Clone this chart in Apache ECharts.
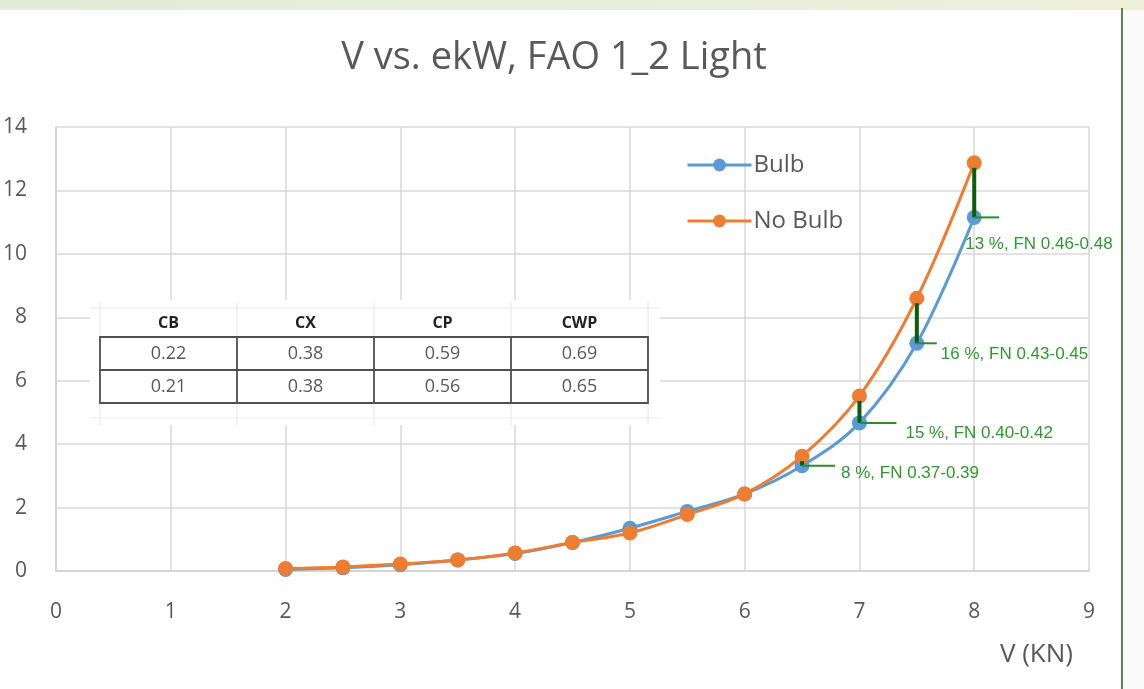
<!DOCTYPE html>
<html><head><meta charset="utf-8">
<script src="https://cdn.jsdelivr.net/npm/echarts@6/dist/echarts.min.js"></script>
<style>html,body{margin:0;padding:0;background:#fff;}#c{width:1144px;height:689px;}</style>
</head><body><div id="c"></div>
<script>
const speeds = [2, 2.5, 3, 3.5, 4, 4.5, 5, 5.5, 6, 6.5, 7, 7.5, 8];
const bulb = [0.05, 0.1, 0.2, 0.35, 0.55, 0.9, 1.35, 1.88, 2.43, 3.32, 4.67, 7.18, 11.15];
const noBulb = [0.08, 0.13, 0.22, 0.35, 0.57, 0.9, 1.2, 1.78, 2.43, 3.62, 5.52, 8.6, 12.87];
const annotSpeeds = [6.5, 7, 7.5, 8];
const annotLabels = ['8 %, FN 0.37-0.39', '15 %, FN 0.40-0.42', '16 %, FN 0.43-0.45', '13 %, FN 0.46-0.48'];
const tableHeaders = ['CB', 'CX', 'CP', 'CWP'];
const tableRow1 = ['0.22', '0.38', '0.59', '0.69'];
const tableRow2 = ['0.21', '0.38', '0.56', '0.65'];
const xTicks = [0, 1, 2, 3, 4, 5, 6, 7, 8, 9];
const yTicks = [0, 2, 4, 6, 8, 10, 12, 14];

// style: leader length, text dx, text dy (pixels)
const annotStyle = [
  {len: 33, dx: 39, dy: 8},
  {len: 37, dx: 46, dy: 10},
  {len: 20, dx: 24, dy: 11},
  {len: 25, dx: -9, dy: 27}
];

const chart = echarts.init(document.getElementById('c'));
const FONT = '"Open Sans", Lato, sans-serif';

function pairs(ys){ return speeds.map((x,i)=>[x, ys[i]]); }

const annotData = annotSpeeds.map((x, k) => {
  const i = speeds.indexOf(x);
  return [x, noBulb[i], bulb[i], k];
});

// table graphic
const tbl = {x0: 100, colW: 137, rowH: 33, top: 337};
const tableChildren = [];
const TZ = 50;
tableChildren.push({type:'rect', z: TZ, shape:{x:90, y:300, width:570, height:125}, style:{fill:'#fff'}});
tableChildren.push({type:'line', z: TZ+1, shape:{x1:90, y1:308, x2:660, y2:308}, style:{stroke:'#e8e8e8', lineWidth:1}});
tableChildren.push({type:'line', z: TZ+1, shape:{x1:90, y1:418, x2:660, y2:418}, style:{stroke:'#eeeeee', lineWidth:1}});
for (let c = 0; c <= tableHeaders.length; c++) {
  const x = tbl.x0 + c * tbl.colW;
  tableChildren.push({type:'line', z: TZ+1, shape:{x1:x, y1:302, x2:x, y2:425}, style:{stroke:'#e8e8e8', lineWidth:1}});
}
tableHeaders.forEach((h, c) => {
  tableChildren.push({type:'text', z: TZ+3, style:{x: tbl.x0 + c*tbl.colW + tbl.colW/2, y: 323, text: h, align:'center', verticalAlign:'middle', font:'bold 16px ' + FONT, fill:'#222'}});
});
[tableRow1, tableRow2].forEach((row, r) => {
  row.forEach((v, c) => {
    tableChildren.push({type:'text', z: TZ+3, style:{x: tbl.x0 + c*tbl.colW + tbl.colW/2, y: tbl.top + r*tbl.rowH + tbl.rowH/2, text: v, align:'center', verticalAlign:'middle', font:'18px ' + FONT, fill:'#595959'}});
  });
});
const bw = tbl.colW * tableHeaders.length;
tableChildren.push({type:'rect', z: TZ+2, shape:{x:tbl.x0, y:tbl.top, width:bw, height:tbl.rowH*2}, style:{fill:null, stroke:'#505050', lineWidth:1.8}});
tableChildren.push({type:'line', z: TZ+2, shape:{x1:tbl.x0, y1:tbl.top+tbl.rowH, x2:tbl.x0+bw, y2:tbl.top+tbl.rowH}, style:{stroke:'#505050', lineWidth:1.8}});
for (let c = 1; c < tableHeaders.length; c++) {
  const x = tbl.x0 + c * tbl.colW;
  tableChildren.push({type:'line', z: TZ+2, shape:{x1:x, y1:tbl.top, x2:x, y2:tbl.top+tbl.rowH*2}, style:{stroke:'#505050', lineWidth:1.8}});
}

chart.setOption({
  backgroundColor: '#fff',
  animation: false,
  title: {
    text: 'V vs. ekW, FAO 1_2 Light',
    left: 549, top: 34, textAlign: 'center',
    textStyle: {fontFamily: FONT, fontSize: 38, fontWeight: 'normal', color: '#595959'}
  },
  legend: {
    orient: 'vertical', left: 681, top: 148, itemGap: 32,
    itemWidth: 64, itemHeight: 16,
    lineStyle: {width: 3},
    textStyle: {fontFamily: FONT, fontSize: 24, color: '#595959', padding:[0,0,0,-3]},
    data: ['Bulb', 'No Bulb']
  },
  grid: {left: 53, right: 55, top: 127, bottom: 118, containLabel: false},
  xAxis: {
    type: 'value', min: 0, max: 9, interval: 1,
    name: 'V (KN)', nameLocation: 'end', nameGap: 0,
    nameTextStyle: {fontFamily: FONT, fontSize: 26, color: '#595959', align: 'right', verticalAlign: 'top', padding: [71, 16, 0, 0]},
    axisLine: {show: true, lineStyle: {color: '#d0d0d0', width: 1.5}},
    axisTick: {show: false},
    axisLabel: {fontFamily: FONT, fontSize: 21, color: '#595959', margin: 31,
      formatter: v => xTicks.includes(v) ? String(v) : ''},
    splitLine: {show: true, lineStyle: {color: '#d9d9d9', width: 1.5}}
  },
  yAxis: {
    type: 'value', min: 0, max: 14, interval: 2,
    axisLine: {show: true, lineStyle: {color: '#d0d0d0', width: 1.5}},
    axisTick: {show: false},
    axisLabel: {fontFamily: FONT, fontSize: 21, color: '#595959', margin: 29,
      formatter: v => yTicks.includes(v) ? String(v) : ''},
    splitLine: {show: true, lineStyle: {color: '#d9d9d9', width: 1.5}}
  },
  graphic: [
    {type: 'rect', z: 100, shape: {x: 0, y: 0, width: 1144, height: 10}, style: {fill: new echarts.graphic.LinearGradient(0,0,1,0,[{offset:0,color:'#e3ecd6'},{offset:1,color:'#eef0dc'}])}},
    {type: 'rect', z: 99, shape: {x: 1123, y: 10, width: 21, height: 679}, style: {fill: '#fafafa'}},
    {type: 'line', z: 100, shape: {x1: 1122, y1: 8, x2: 1122, y2: 689}, style: {stroke: '#4e8a4e', lineWidth: 2}},
    {type: 'group', children: tableChildren}
  ],
  series: [
    {
      name: 'Bulb', type: 'line', data: pairs(bulb), smooth: 0.35,
      symbol: 'circle', symbolSize: 15,
      lineStyle: {color: '#5B9BD5', width: 3},
      itemStyle: {color: '#5B9BD5'}, z: 3
    },
    {
      name: 'No Bulb', type: 'line', data: pairs(noBulb), smooth: 0.35,
      symbol: 'circle', symbolSize: 15,
      lineStyle: {color: '#ED7D31', width: 3},
      itemStyle: {color: '#ED7D31'}, z: 4
    },
    {
      name: 'annot', type: 'custom', data: annotData, z: 10,
      renderItem: function (params, api) {
        const x = api.value(0), top = api.value(1), bot = api.value(2), k = api.value(3);
        const pTop = api.coord([x, top]);
        const pBot = api.coord([x, bot]);
        const st = annotStyle[k];
        return {
          type: 'group',
          children: [
            {type: 'line', shape: {x1: pTop[0], y1: pTop[1] + 5, x2: pBot[0], y2: pBot[1]}, style: {stroke: '#0b5d0b', lineWidth: 4}},
            {type: 'line', shape: {x1: pBot[0], y1: pBot[1], x2: pBot[0] + st.len, y2: pBot[1]}, style: {stroke: '#2e8b2e', lineWidth: 2}},
            {type: 'text', style: {x: pBot[0] + st.dx, y: pBot[1] + st.dy, text: annotLabels[k], align: 'left', verticalAlign: 'middle', font: '17px "Liberation Sans", Arial, sans-serif', fill: '#2e9a2e'}}
          ]
        };
      }
    }
  ]
});
</script></body></html>
